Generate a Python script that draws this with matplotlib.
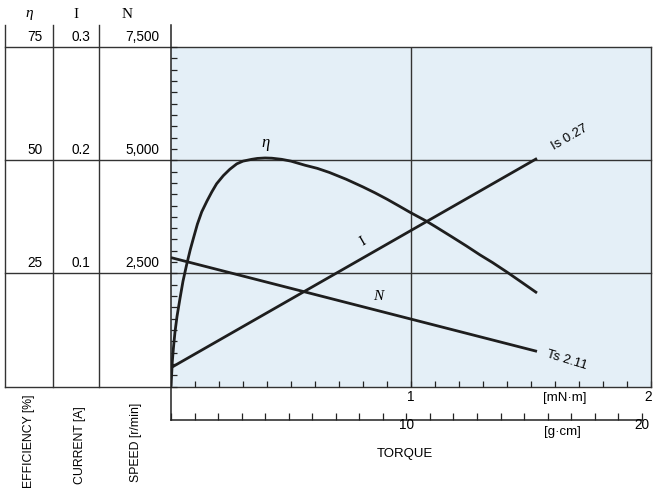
import matplotlib.pyplot as plt
import numpy as np

# torque axis in mN·m, speed in r/min, efficiency in %, current in A
eta_torque = [0, 0.003, 0.0054, 0.01, 0.0167, 0.025, 0.0375, 0.05, 0.065, 0.08, 0.093,
              0.11, 0.128, 0.15, 0.17, 0.19, 0.218, 0.245, 0.274, 0.30, 0.336, 0.36,
              0.392, 0.42, 0.461, 0.50, 0.558, 0.61, 0.66, 0.73, 0.8, 0.85, 0.9, 0.95,
              0.996, 1.0625, 1.1, 1.17, 1.23, 1.2875, 1.34, 1.4, 1.46, 1.525]
eta_values = [0, 3.0, 5.5, 8.5, 12.1, 15.5, 19.5, 23.3, 26.9, 30.2, 32.7,
              35.9, 38.6, 41.0, 43.0, 44.8, 46.6, 48.0, 49.2, 49.8, 50.2, 50.4,
              50.5, 50.45, 50.2, 49.8, 48.9, 48.2, 47.3, 45.8, 44.1, 42.8, 41.4, 39.9,
              38.5, 36.6, 35.4, 33.1, 31.1, 29.1, 27.4, 25.3, 23.1, 20.7]
speed_torque = [0, 1.525]
speed_values = [2850, 780]
current_torque = [0, 1.525]
current_values = [0.0168, 0.2016]

col_heads = ['η', 'I', 'N']
row_labels = [['75', '0.3', '7,500'], ['50', '0.2', '5,000'], ['25', '0.1', '2,500']]
row_speeds = [7500, 5000, 2500]
col_titles = ['EFFICIENCY [%]', 'CURRENT [A]', 'SPEED [r/min]']

W, H = 653, 492
fig = plt.figure(figsize=(W / 100, H / 100), dpi=100)

x0, x1 = 171, 651
ytop, ybot = 47, 386.7
axw, axh = x1 - x0, ybot - ytop

def ax_x(px):
    return (px - x0) / axw

def ax_y(py):
    return (ybot - py) / axh

ax = fig.add_axes([x0 / W, (H - ybot) / H, axw / W, axh / H])
ax.set_facecolor('#e4eff7')
ax.set_xlim(0, 2)
ax.set_ylim(0, 7500)
for s in ax.spines.values():
    s.set_visible(False)

ax.set_xticks(np.arange(0, 2.01, 0.1))
ax.set_yticks(np.arange(0, 7501, 250))
ax.tick_params(axis='both', direction='in', length=4, width=0.9, color='#222222',
               labelbottom=False, labelleft=False)

sans = 'Liberation Sans'
serif = 'Liberation Serif'
line_c = '#333333'
fs = 9.8

# horizontal table/grid lines
for v in row_speeds + [0]:
    ax.plot([ax_x(5), 1], [v, v], transform=ax.get_yaxis_transform(), color=line_c,
            lw=1.0, clip_on=False, zorder=1)
# vertical grid at 1 mN·m
ax.plot([1, 1], [0, 7500], color=line_c, lw=1.0, zorder=1)
# right border
ax.plot([1, 1], [0, 1], transform=ax.transAxes, color=line_c, lw=1.0, clip_on=False)
# table column lines
for px in [5, 53, 99]:
    ax.plot([ax_x(px)] * 2, [0, ax_y(25)], transform=ax.transAxes, color=line_c,
            lw=1.0, clip_on=False)
ax.plot([0, 0], [ax_y(420), ax_y(25)], transform=ax.transAxes, color='#222222',
        lw=1.1, clip_on=False)

# table text
head_x = [29, 76, 127]
num_right = [43, 90, 159]
for hx, h in zip(head_x, col_heads):
    fig.text(hx / W, 1 - 14 / H, h, ha='center', va='center', family=serif,
             style='italic' if h == 'η' else 'normal', fontsize=11)
for row, v in zip(row_labels, row_speeds):
    for rx, t in zip(num_right, row):
        ax.annotate(t, xy=(ax_x(rx), v), xycoords=ax.get_yaxis_transform(),
                    xytext=(0, 10), textcoords='offset pixels', ha='right',
                    va='center', family=sans, fontsize=fs, annotation_clip=False)
for cx, top, t in zip([29, 80, 136], [395, 406, 403], col_titles):
    fig.text(cx / W, 1 - top / H, t, rotation=90, ha='center', va='top',
             family=sans, fontsize=8.8)

# torque labels
ax.text(1, ax_y(397), '1', transform=ax.get_xaxis_transform(), ha='center',
        va='center', family=sans, fontsize=fs)
fig.text(652 / W, 1 - 397 / H, '2', ha='right', va='center', family=sans, fontsize=fs)
ax.text(ax_x(565), ax_y(398), '[mN·m]', transform=ax.transAxes, ha='center',
        va='center', family=sans, fontsize=9.5)

# g·cm axis
gmax = 2 * 10.197
ax2 = fig.add_axes([x0 / W, (H - 420) / H, axw / W, 0.01])
ax2.patch.set_visible(False)
ax2.set_xlim(0, gmax)
for k in ['top', 'left', 'right']:
    ax2.spines[k].set_visible(False)
ax2.spines['bottom'].set_bounds(0, 20)
ax2.spines['bottom'].set_color('#222222')
ax2.spines['bottom'].set_linewidth(1.1)
ax2.set_yticks([])
ax2.set_xticks(np.arange(0, 21, 1))
ax2.tick_params(axis='x', direction='in', length=5, width=0.9, color='#222222',
                labelbottom=False)
ax2.text(10, -1.0, '10', transform=ax2.get_xaxis_transform(), ha='center', va='center',
         family=sans, fontsize=fs)
ax2.text(20, -1.0, '20', transform=ax2.get_xaxis_transform(), ha='center', va='center',
         family=sans, fontsize=fs)
fig.text(562 / W, 1 - 432 / H, '[g·cm]', ha='center', va='center', family=sans, fontsize=9.5)
fig.text(405 / W, 1 - 454 / H, 'TORQUE', ha='center', va='center', family=sans, fontsize=9.5)

# curves
ax_eta = ax.twinx()
ax_eta.set_ylim(0, 75)
ax_cur = ax.twinx()
ax_cur.set_ylim(0, 0.3)
for a in (ax_eta, ax_cur):
    a.set_yticks([])
    for s in a.spines.values():
        s.set_visible(False)

curve_c = '#1e1e1e'
ax_eta.plot(eta_torque, eta_values, color=curve_c, lw=2.0, solid_capstyle='butt',
            solid_joinstyle='round')
ax.plot(speed_torque, speed_values, color=curve_c, lw=2.0, solid_capstyle='butt', zorder=3)
ax_cur.plot(current_torque, current_values, color=curve_c, lw=2.0, solid_capstyle='butt')

fig.text(266 / W, 1 - 143 / H, 'η', ha='center', va='center', family=serif,
         style='italic', fontsize=12)
fig.text(363 / W, 1 - 242 / H, 'I', ha='center', va='center', family=serif,
         rotation=30, fontsize=11)
fig.text(378 / W, 1 - 297 / H, 'N', ha='center', va='center', family=serif,
         style='italic', fontsize=11)
fig.text(570 / W, 1 - 137 / H, 'Is 0.27', ha='center', va='center', family=sans,
         rotation=30, fontsize=9.5)
fig.text(567 / W, 1 - 360 / H, 'Ts 2.11', ha='center', va='center', family=sans,
         rotation=-17, fontsize=9.5)

fig.savefig('out.png', dpi=100)
